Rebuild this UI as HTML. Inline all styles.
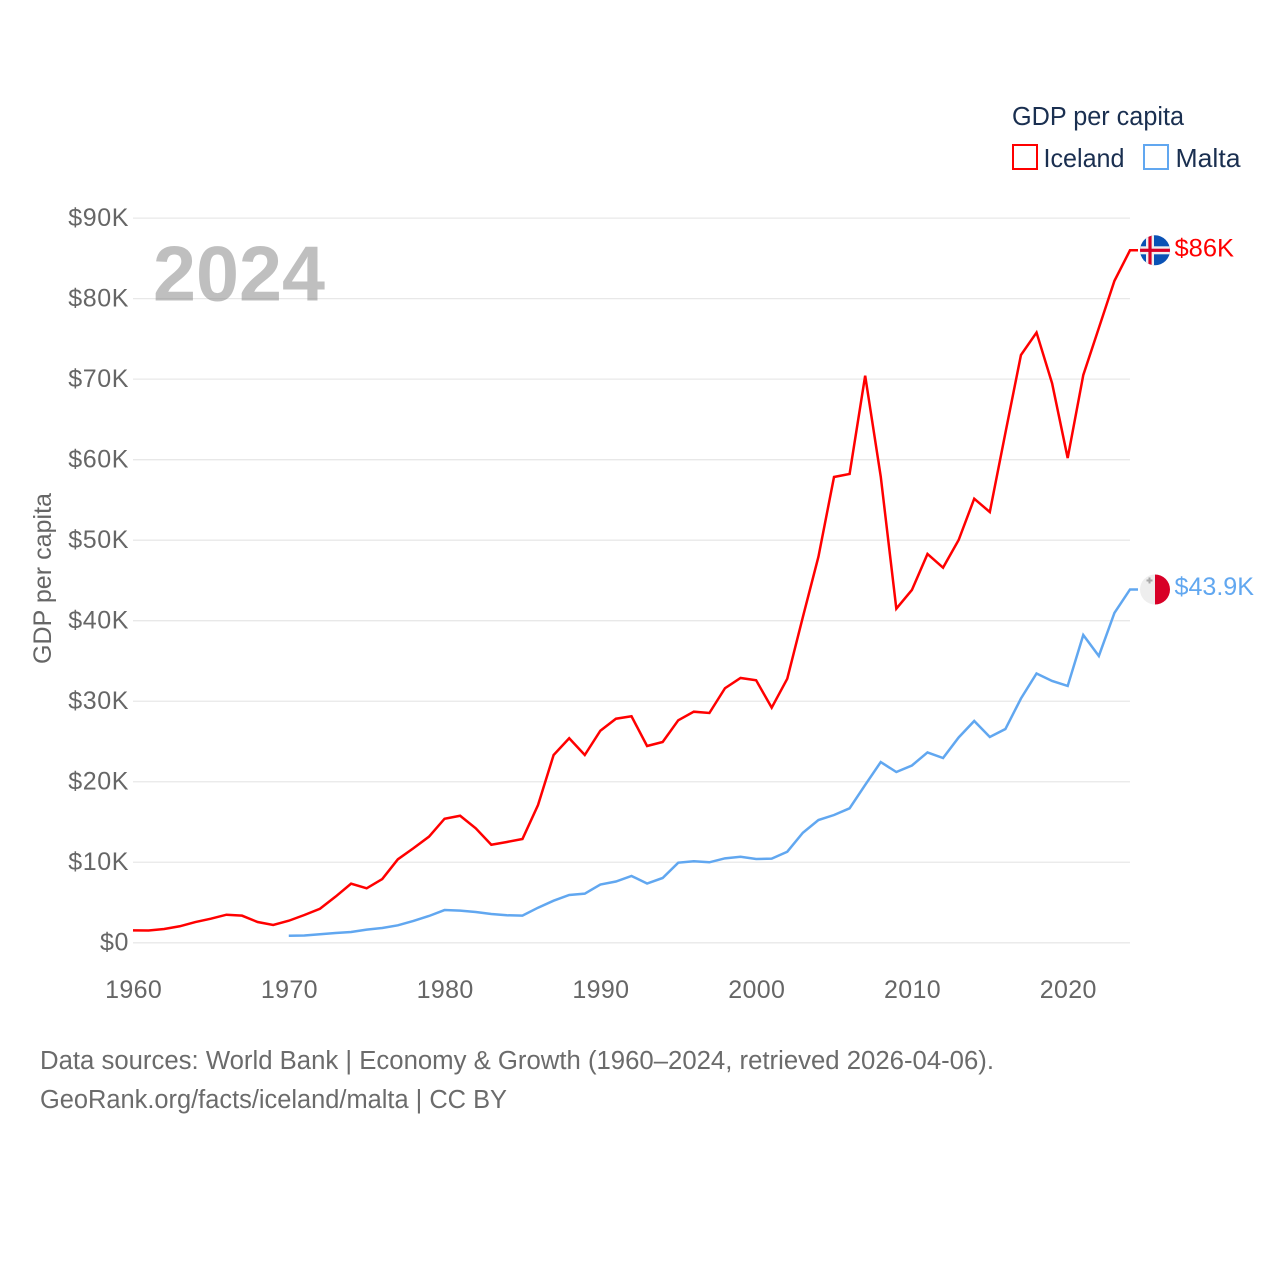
<!DOCTYPE html>
<html lang="en">
<head>
<meta charset="utf-8">
<title>GDP per capita: Iceland and Malta</title>
<style>
  html, body { margin: 0; padding: 0; background: #ffffff; }
  svg { display: block; }
  text { font-family: "Liberation Sans", sans-serif; }
</style>
</head>
<body>
<svg id="chart" width="1280" height="1280" viewBox="0 0 1280 1280" xmlns="http://www.w3.org/2000/svg">
  <rect x="0" y="0" width="1280" height="1280" fill="#ffffff"/>
  <g id="grid"></g>
  <g id="yTicks"></g>
  <g id="xTicks"></g>
  <text x="153" y="300.6" font-size="78" font-weight="700" fill="#7f7f7f" fill-opacity="0.5" textLength="172" lengthAdjust="spacingAndGlyphs">2024</text>
  <text transform="translate(51,664) rotate(-90)" font-size="25" fill="#666666" textLength="171" lengthAdjust="spacingAndGlyphs">GDP per capita</text>
  <g id="series"></g>

  <g>
    <text x="1012" y="125" font-size="25.5" fill="#1a2f50" textLength="172" lengthAdjust="spacingAndGlyphs">GDP per capita</text>
    <g>
      <rect x="1013" y="145" width="24" height="24" fill="none" stroke="#ff0000" stroke-width="2"/>
      <text x="1043.5" y="167" font-size="26" fill="#1a2f50" textLength="81" lengthAdjust="spacingAndGlyphs">Iceland</text>
    </g>
    <g>
      <rect x="1144" y="145" width="24" height="24" fill="none" stroke="#61a7f0" stroke-width="2"/>
      <text x="1175.5" y="167" font-size="26" fill="#1a2f50" textLength="65" lengthAdjust="spacingAndGlyphs">Malta</text>
    </g>
  </g>

  <defs>
    <clipPath id="flagClipIceland"><circle cx="1155" cy="250" r="15"/></clipPath>
    <clipPath id="flagClipMalta"><circle cx="1155" cy="589" r="15"/></clipPath>
  </defs>
  <g id="flagIceland">
    <g clip-path="url(#flagClipIceland)">
      <rect x="1140" y="234" width="30" height="32" fill="#0a52b5"/>
      <rect x="1146" y="234" width="8" height="32" fill="#f0f0f0"/>
      <rect x="1140" y="246" width="30" height="8" fill="#f0f0f0"/>
      <rect x="1148.4" y="234" width="3.2" height="32" fill="#d80027"/>
      <rect x="1140" y="248.4" width="30" height="3.2" fill="#d80027"/>
    </g>
  </g>
  <g id="flagMalta">
    <g clip-path="url(#flagClipMalta)">
      <rect x="1140" y="573" width="15" height="32" fill="#eeeeee"/>
      <rect x="1155" y="573" width="15" height="32" fill="#d80027"/>
      <rect x="1148.5" y="577" width="2" height="6" fill="#a8a8a8"/>
      <rect x="1146.5" y="579" width="6" height="2" fill="#a8a8a8"/>
    </g>
  </g>
  <g id="endLabels"></g>

  <g>
    <text x="40" y="1069" font-size="25.5" fill="#6b6b6b" textLength="954" lengthAdjust="spacingAndGlyphs">Data sources: World Bank | Economy &amp; Growth (1960–2024, retrieved 2026-04-06).</text>
    <text x="40" y="1108" font-size="25.5" fill="#6b6b6b" textLength="467" lengthAdjust="spacingAndGlyphs">GeoRank.org/facts/iceland/malta | CC BY</text>
  </g>
</svg>
<script>
// GDP per capita in thousands of US dollars.
const icelandStartYear = 1960;
const icelandValues = [1.55,1.53,1.71,2.05,2.58,2.99,3.49,3.37,2.58,2.21,
  2.74,3.45,4.23,5.73,7.34,6.77,7.92,10.37,11.74,13.18,
  15.41,15.78,14.22,12.18,12.52,12.89,17.11,23.32,25.40,23.32,
  26.34,27.83,28.13,24.44,24.94,27.63,28.70,28.54,31.61,32.89,
  32.60,29.20,32.80,40.46,47.95,57.85,58.23,70.43,57.89,41.49,
  43.82,48.29,46.59,50.02,55.15,53.50,63.31,73.00,75.79,69.48,
  60.20,70.50,76.35,82.20,86.00];
const maltaStartYear = 1970;
const maltaValues = [0.88,0.91,1.06,1.22,1.34,1.63,1.84,2.17,2.71,3.33,
  4.07,3.99,3.83,3.58,3.42,3.37,4.36,5.23,5.94,6.10,
  7.24,7.61,8.30,7.36,8.05,9.95,10.12,10.00,10.49,10.69,
  10.41,10.45,11.31,13.67,15.25,15.87,16.70,19.60,22.45,21.21,
  22.02,23.64,22.95,25.50,27.55,25.56,26.55,30.34,33.45,32.52,
  31.90,38.23,35.62,40.96,43.88];
const yTickValues = [0,10,20,30,40,50,60,70,80,90];
const yTickLabels = ["$0","$10K","$20K","$30K","$40K","$50K","$60K","$70K","$80K","$90K"];
const xTickYears = [1960,1970,1980,1990,2000,2010,2020];
const xTickLabels = ["1960","1970","1980","1990","2000","2010","2020"];
const icelandEndLabel = "$86K";
const maltaEndLabel = "$43.9K";

const SVG_NS = "http://www.w3.org/2000/svg";
const plot = { left: 133, right: 1130, zero: 942.8, top: 218.1 };
const xDomain = [1960, 2024];
const yDomain = [0, 90];
function xScale(year) {
  return plot.left + (year - xDomain[0]) / (xDomain[1] - xDomain[0]) * (plot.right - plot.left);
}
function yScale(value) {
  return plot.zero - (value - yDomain[0]) / (yDomain[1] - yDomain[0]) * (plot.zero - plot.top);
}
function make(tag, parentId) {
  const el = document.createElementNS(SVG_NS, tag);
  document.getElementById(parentId).appendChild(el);
  return el;
}

yTickValues.forEach(function (value, i) {
  const line = make("line", "grid");
  
  
  line.setAttribute("x1", plot.left);
  line.setAttribute("x2", plot.right);
  line.setAttribute("y1", yScale(value));
  line.setAttribute("y2", yScale(value));
  line.setAttribute("stroke", "#e8e8e8");
  line.setAttribute("stroke-width", "1.3");

  const label = make("text", "yTicks");
  
  
  label.setAttribute("x", 129);
  label.setAttribute("y", yScale(value) + 7.7);
  label.setAttribute("text-anchor", "end");
  label.setAttribute("font-size", "25");
  label.setAttribute("letter-spacing", "0.6");
  label.setAttribute("fill", "#666666");
  label.textContent = yTickLabels[i];
});

xTickYears.forEach(function (year, i) {
  const label = make("text", "xTicks");
  
  
  label.setAttribute("x", xScale(year) + 0.6);
  label.setAttribute("y", 998);
  label.setAttribute("text-anchor", "middle");
  label.setAttribute("font-size", "25");
  label.setAttribute("letter-spacing", "0.35");
  label.setAttribute("fill", "#666666");
  label.textContent = xTickLabels[i];
});

function linePath(values, startYear) {
  let d = "";
  values.forEach(function (value, i) {
    d += (i ? "L" : "M") + xScale(startYear + i).toFixed(2) + " " + yScale(value).toFixed(2);
  });
  d += "L" + (xScale(startYear + values.length - 1) + 8).toFixed(2) + " " + yScale(values[values.length - 1]).toFixed(2);
  return d;
}

const icelandLine = make("path", "series");


icelandLine.setAttribute("d", linePath(icelandValues, icelandStartYear));
icelandLine.setAttribute("fill", "none");
icelandLine.setAttribute("stroke", "#ff0000");
icelandLine.setAttribute("stroke-width", "2.5");
icelandLine.setAttribute("stroke-linejoin", "miter");

const maltaLine = make("path", "series");


maltaLine.setAttribute("d", linePath(maltaValues, maltaStartYear));
maltaLine.setAttribute("fill", "none");
maltaLine.setAttribute("stroke", "#61a7f0");
maltaLine.setAttribute("stroke-width", "2.5");
maltaLine.setAttribute("stroke-linejoin", "miter");

const icelandEndY = yScale(icelandValues[icelandValues.length - 1]);
const maltaEndY = yScale(maltaValues[maltaValues.length - 1]);
document.getElementById("flagIceland").setAttribute("transform", "translate(0," + (icelandEndY - 250) + ")");
document.getElementById("flagMalta").setAttribute("transform", "translate(0," + (maltaEndY - 589) + ")");

const icelandLabel = make("text", "endLabels");


icelandLabel.setAttribute("x", 1174.5);
icelandLabel.setAttribute("y", icelandEndY + 6);
icelandLabel.setAttribute("font-size", "25");
icelandLabel.setAttribute("fill", "#ff0000");
icelandLabel.setAttribute("textLength", "59.5");
icelandLabel.setAttribute("lengthAdjust", "spacingAndGlyphs");
icelandLabel.textContent = icelandEndLabel;

const maltaLabel = make("text", "endLabels");


maltaLabel.setAttribute("x", 1174.5);
maltaLabel.setAttribute("y", maltaEndY + 5.5);
maltaLabel.setAttribute("font-size", "25");
maltaLabel.setAttribute("fill", "#61a7f0");
maltaLabel.setAttribute("textLength", "79.5");
maltaLabel.setAttribute("lengthAdjust", "spacingAndGlyphs");
maltaLabel.textContent = maltaEndLabel;
</script>
</body>
</html>
